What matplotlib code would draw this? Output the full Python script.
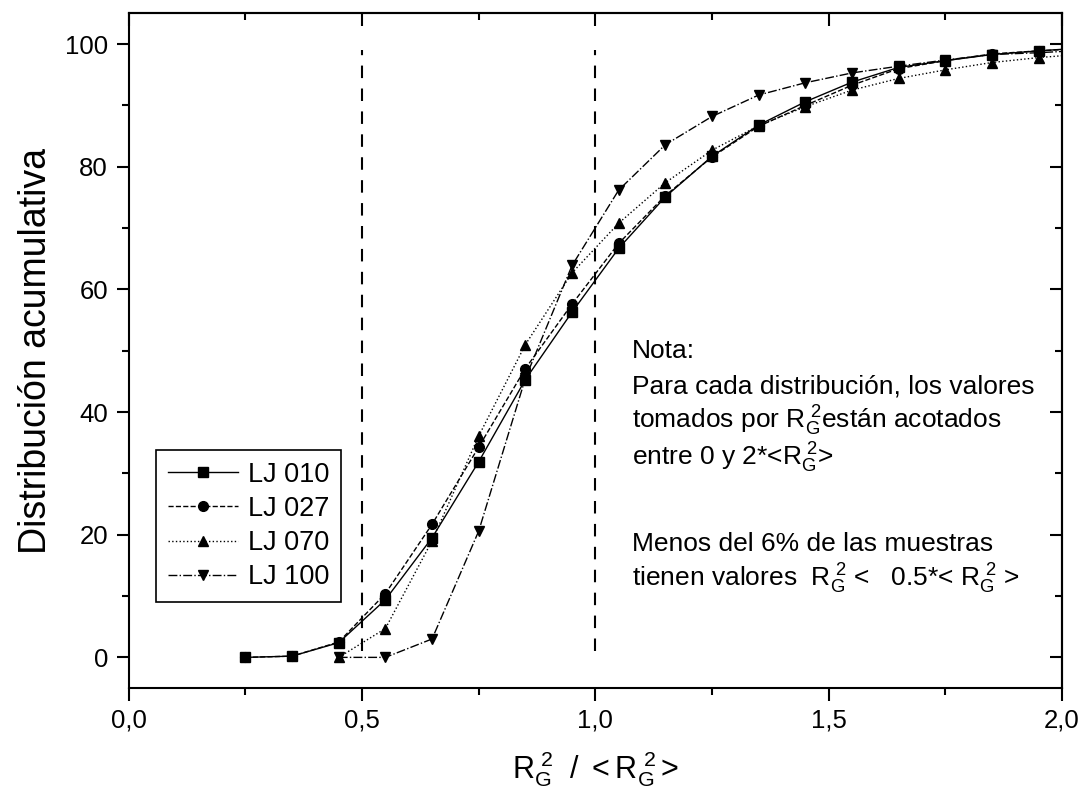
import matplotlib
matplotlib.use("Agg")
import matplotlib.pyplot as plt
from matplotlib.ticker import MultipleLocator, FuncFormatter

plt.rcParams['font.family'] = ['Liberation Sans', 'DejaVu Sans']
plt.rcParams['mathtext.fontset'] = 'custom'
plt.rcParams['mathtext.rm'] = 'Liberation Sans'
plt.rcParams['mathtext.it'] = 'Liberation Sans'

# Datos
x_full = [0.25, 0.35, 0.45, 0.55, 0.65, 0.75, 0.85, 0.95, 1.05, 1.15,
          1.25, 1.35, 1.45, 1.55, 1.65, 1.75, 1.85, 1.95, 2.05]
x_late = x_full[2:]

lj010 = [0.0, 0.2, 2.4, 9.4, 19.5, 31.9, 45.3, 56.3, 66.7, 75.1,
         81.7, 86.8, 90.6, 93.8, 96.2, 97.3, 98.3, 98.9, 99.4]
lj027 = [0.0, 0.2, 2.5, 10.4, 21.7, 34.3, 47.1, 57.6, 67.5, 75.3,
         81.6, 86.6, 90.0, 93.3, 96.0, 97.3, 98.4, 98.9, 99.3]
lj070 = [0.0, 4.7, 19.0, 36.1, 51.0, 62.7, 70.8, 77.4,
         82.7, 86.7, 89.8, 92.5, 94.4, 95.8, 97.0, 97.8, 98.4]
lj100 = [0.0, 0.0, 3.0, 20.6, 45.5, 63.9, 76.2, 83.6,
         88.2, 91.7, 93.7, 95.3, 96.4, 97.4, 98.3, 98.6, 99.0]

fig = plt.figure(figsize=(10.82, 8.05), dpi=100)
ax = fig.add_axes([0.119, 0.1453, 0.8625, 0.838])

ax.plot(x_full, lj010, "-", color="black", linewidth=1.0, marker="s", markersize=6.5, label="LJ 010")
ax.plot(x_full, lj027, "--", color="black", linewidth=1.0, marker="o", markersize=7, label="LJ 027")
ax.plot(x_late, lj070, ":", color="black", linewidth=1.0, marker="^", markersize=7.5, label="LJ 070")
ax.plot(x_late, lj100, "-.", color="black", linewidth=1.0, marker="v", markersize=7.5, label="LJ 100")

# Lineas verticales de referencia
for xv in [0.5, 1.0]:
    ax.plot([xv, xv], [1, 99], color="black", linewidth=1.5, dashes=(6, 5))

ax.set_xlim(0, 2.0)
ax.set_ylim(-5, 105)
ax.xaxis.set_major_locator(MultipleLocator(0.5))
ax.xaxis.set_minor_locator(MultipleLocator(0.25))
ax.yaxis.set_major_locator(MultipleLocator(20))
ax.yaxis.set_minor_locator(MultipleLocator(10))
ax.xaxis.set_major_formatter(FuncFormatter(lambda v, p: f"{v:.1f}".replace(".", ",")))

for s in ax.spines.values():
    s.set_linewidth(1.5)
ax.tick_params(which="major", direction="out", length=9, width=1.5, labelsize=18.5, pad=6)
ax.tick_params(which="minor", direction="out", length=5, width=1.5)

# Marcas hacia dentro en los ejes superior y derecho
top = ax.secondary_xaxis("top")
top.xaxis.set_major_locator(MultipleLocator(0.5))
top.xaxis.set_minor_locator(MultipleLocator(0.25))
top.tick_params(which="major", direction="in", length=9, width=1.5, labeltop=False)
top.tick_params(which="minor", direction="in", length=5, width=1.5)
top.spines["top"].set_linewidth(1.5)
right = ax.secondary_yaxis("right")
right.yaxis.set_major_locator(MultipleLocator(20))
right.yaxis.set_minor_locator(MultipleLocator(10))
right.tick_params(which="major", direction="in", length=9, width=1.5, labelright=False)
right.tick_params(which="minor", direction="in", length=5, width=1.5)
right.spines["right"].set_linewidth(1.5)

ax.set_xlabel(r"$\mathregular{R_G^{\,\,2}\ \ /\ <R_G^{\,\,2}>}$", fontsize=22, labelpad=12)
ax.set_ylabel("Distribución acumulativa", fontsize=27, labelpad=8)

leg = ax.legend(loc="lower left", bbox_to_anchor=(0.029, 0.127), borderaxespad=0,
                fontsize=19.5, handlelength=2.6, handletextpad=0.35, labelspacing=0.3,
                fancybox=False, framealpha=1, edgecolor="black", borderpad=0.45)
leg.get_frame().set_linewidth(1.2)

notas = [
    (49.9, "Nota:"),
    (44.2, "Para cada distribución, los valores"),
    (38.5, r"tomados por $\mathregular{R_G^{\,\,2}}$están acotados"),
    (32.6, r"entre 0 y 2*<$\mathregular{R_G^{\,\,2}}$>"),
    (18.5, "Menos del 6% de las muestras"),
    (12.8, r"tienen valores  $\mathregular{R_G^{\,\,2}}$ <   0.5*< $\mathregular{R_G^{\,\,2}}$ >"),
]
for yv, txt in notas:
    ax.text(1.079, yv, txt, fontsize=19, va="center", ha="left")

plt.savefig("out.png", dpi=100)
